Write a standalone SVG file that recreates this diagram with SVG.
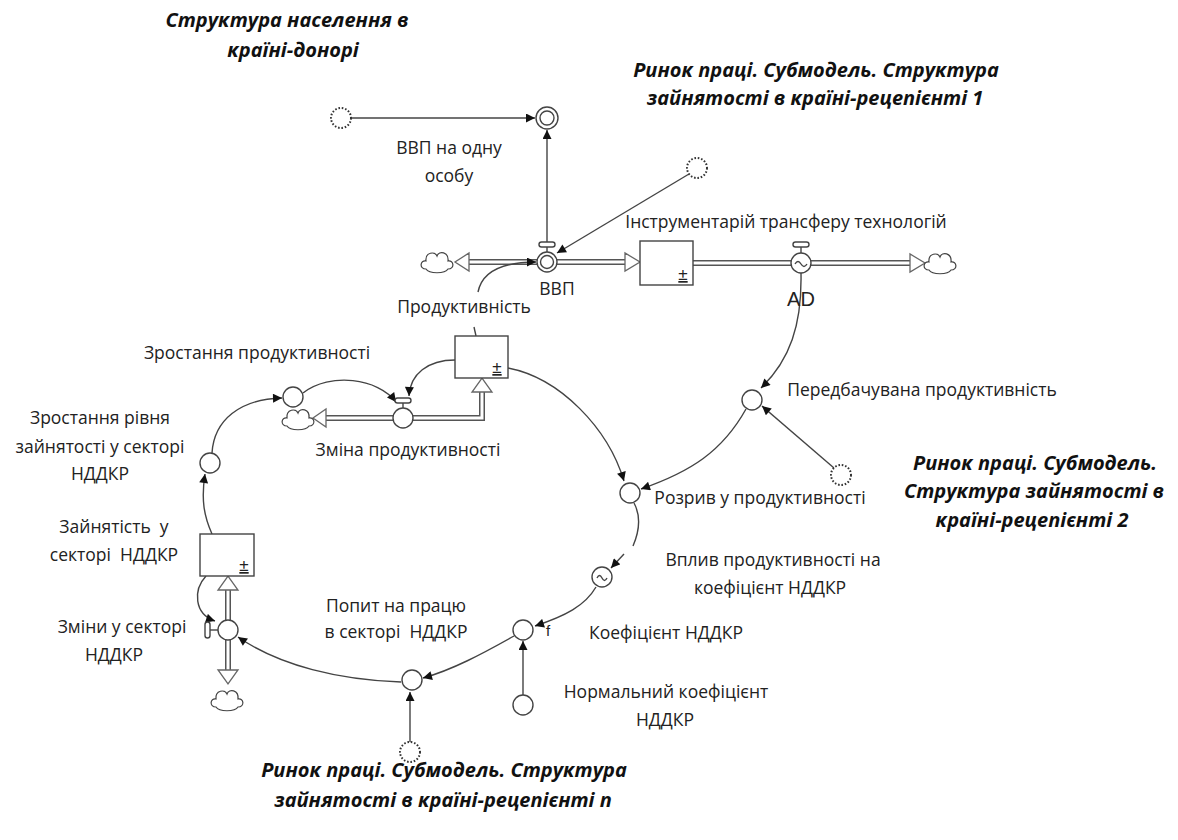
<svg xmlns="http://www.w3.org/2000/svg" width="1178" height="840" viewBox="0 0 1178 840">
<style>
.t{font-family:"Open Sans","Noto Sans",sans-serif;font-size:17.5px;fill:#222;text-anchor:middle;white-space:pre}
.h{font-family:"Open Sans","Noto Sans",sans-serif;font-size:20px;font-weight:bold;font-style:italic;fill:#111;text-anchor:middle}
.ad{font-family:"Liberation Sans",Arial,sans-serif;font-size:20px;fill:#222;text-anchor:middle}
.c{fill:#fff;stroke:#444;stroke-width:1.4}
.dot{fill:#fff;stroke:#333;stroke-width:2;stroke-dasharray:1.6 1.8}
.box{fill:#fff;stroke:#444;stroke-width:1.4}
.po{fill:none;stroke:#555;stroke-width:6}
.pi{fill:none;stroke:#fff;stroke-width:3}
.tri{fill:#fff;stroke:#666;stroke-width:1.3}
.l{fill:none;stroke:#444;stroke-width:1.4}
.a{fill:none;stroke:#444;stroke-width:1.4;marker-end:url(#ar)}
.pm{font-family:"Liberation Sans",Arial,sans-serif;font-size:17px;fill:#222;text-anchor:middle;text-decoration:underline}
.f{font-family:"Liberation Sans",Arial,sans-serif;font-size:15px;fill:#222;text-anchor:middle}
</style>
<defs>
<marker id="ar" viewBox="0 0 10 10" refX="10" refY="5" markerWidth="10" markerHeight="9" markerUnits="userSpaceOnUse" orient="auto">
<path d="M0,0 L10,5 L0,10 z" fill="#111"/>
</marker>
<path id="cloud" d="M-11,7 C-18,7 -17,-2 -11,-1 C-12,-10 -2,-11 0,-6 C2,-12 12,-10 11,-1 C17,-2 18,7 11,7 C8,12 -8,12 -11,7 Z" fill="#fff" stroke="#444" stroke-width="1.2"/>
</defs>
<rect width="1178" height="840" fill="#fff"/>

<g id="titles">
<text class="h" x="287" y="27">Структура населення в</text>
<text class="h" x="293" y="57">країні-донорі</text>
<text class="h" x="816" y="77">Ринок праці. Субмодель. Структура</text>
<text class="h" x="815" y="105">зайнятості в країні-рецепієнті 1</text>
<text class="h" x="1035" y="470">Ринок праці. Субмодель.</text>
<text class="h" x="1034" y="498">Структура зайнятості в</text>
<text class="h" x="1032" y="527">країні-рецепієнті 2</text>
<text class="h" x="444" y="777">Ринок праці. Субмодель. Структура</text>
<text class="h" x="443" y="807">зайнятості в країні-рецепієнті n</text>
</g>

<g id="pipes">
<path class="po" d="M468,262 H625"/><path class="pi" d="M468,262 H625"/>
<polygon class="tri" points="469,253 469,271 455,262"/>
<polygon class="tri" points="625,253 625,271 640,262"/>
<path class="po" d="M693,263 H910"/><path class="pi" d="M693,263 H910"/>
<polygon class="tri" points="910,254 910,272 925,263"/>
<path class="po" d="M326,418 H482 V392"/><path class="pi" d="M326,418 H482 V392"/>
<polygon class="tri" points="326,409 326,427 313,418"/>
<polygon class="tri" points="472,392 492,392 482,378"/>
<path class="po" d="M228,590 V670"/><path class="pi" d="M228,590 V670"/>
<polygon class="tri" points="218,590 238,590 228,576"/>
<polygon class="tri" points="218,670 238,670 228,684"/>
</g>

<g id="connectors">
<path class="a" d="M351,118 H535"/>
<path class="a" d="M547,242 V130"/>
<path class="a" d="M689,174 L557,253"/>
<path class="l" d="M476,336 L474,327"/>
<path class="a" d="M478,292 C482,272 500,262 536,262"/>
<path class="a" d="M801,273 C802,325 790,360 761,388"/>
<path class="a" d="M834,468 L762,406"/>
<path class="a" d="M746,409 C722,452 690,472 641,489"/>
<path class="a" d="M508,368 C560,378 608,428 624,481"/>
<path class="a" d="M303,393 C330,372 378,378 396,402"/>
<path class="a" d="M455,360 C428,360 410,374 409,396"/>
<path class="l" d="M634,503 C641,516 639,532 633,546"/>
<path class="a" d="M624,554 L611,568"/>
<path class="a" d="M596,587 C585,606 565,616 535,626"/>
<path class="a" d="M523,695 V641"/>
<path class="a" d="M514,636 C482,654 452,670 423,678"/>
<path class="a" d="M410,742 V692"/>
<path class="a" d="M401,682 C340,680 280,666 238,637"/>
<path class="a" d="M206,576 C193,590 194,614 215,621"/>
<path class="a" d="M212,534 C204,516 201,500 205,474"/>
<path class="a" d="M212,453 C214,420 240,399 282,398"/>
</g>

<g id="source-gdp-per-capita">
<circle class="dot" cx="341" cy="118" r="10"/>
</g>
<g id="gdp-per-capita">
<circle class="c" cx="547" cy="118" r="11"/>
<circle class="c" cx="547" cy="118" r="7"/>
<text class="t" x="449" y="154">ВВП на одну</text>
<text class="t" x="449" y="182">особу</text>
</g>
<g id="cloud-gdp-left"><use href="#cloud" x="437" y="262"/></g>
<g id="gdp">
<line class="l" x1="547" y1="247" x2="547" y2="252"/>
<rect class="box" x="539" y="242" width="16" height="5" rx="2.5"/>
<circle class="c" cx="547" cy="262" r="10"/>
<circle class="c" cx="547" cy="262" r="6.5"/>
<text class="t" x="557" y="295">ВВП</text>
</g>
<g id="tech-transfer-source">
<circle class="dot" cx="697" cy="168" r="10"/>
<text class="t" x="786" y="228">Інструментарій трансферу технологій</text>
</g>
<g id="stock-main">
<rect class="box" x="640" y="241" width="53" height="44"/>
<text class="pm" x="683" y="280">±</text>
</g>
<g id="ad">
<line class="l" x1="801" y1="247" x2="801" y2="253"/>
<rect class="box" x="793" y="242" width="16" height="5" rx="2.5"/>
<circle class="c" cx="801" cy="263" r="10"/>
<path class="l" d="M795,264 q3,-5 6,0 q3,5 6,0"/>
<text class="ad" x="801" y="306">AD</text>
</g>
<g id="cloud-ad-right"><use href="#cloud" x="940" y="263"/></g>

<g id="productivity">
<rect class="box" x="455" y="336" width="53" height="42"/>
<text class="pm" x="497" y="373">±</text>
<text class="t" x="464" y="313">Продуктивність</text>
</g>
<g id="productivity-growth">
<circle class="c" cx="293" cy="397" r="10"/>
<text class="t" x="257" y="359">Зростання продуктивності</text>
</g>
<g id="cloud-productivity"><use href="#cloud" x="298" y="419"/></g>
<g id="productivity-change">
<line class="l" x1="403" y1="403" x2="403" y2="408"/>
<rect class="box" x="395" y="398" width="16" height="5" rx="2.5"/>
<circle class="c" cx="403" cy="418" r="10"/>
<text class="t" x="408" y="456">Зміна продуктивності</text>
</g>
<g id="expected-productivity">
<circle class="c" cx="752" cy="400" r="10"/>
<text class="t" x="922" y="396">Передбачувана продуктивність</text>
</g>
<g id="expected-source">
<circle class="dot" cx="841" cy="475" r="10"/>
</g>
<g id="productivity-gap">
<circle class="c" cx="630" cy="493" r="10"/>
<text class="t" x="760" y="504">Розрив у продуктивності</text>
</g>
<g id="productivity-effect">
<circle class="c" cx="602" cy="577" r="10"/>
<path class="l" d="M597,578 q2.5,-5 5,0 q2.5,5 5,0"/>
<text class="t" x="773" y="566">Вплив продуктивності на</text>
<text class="t" x="770" y="594">коефіцієнт НДДКР</text>
</g>
<g id="rd-coefficient">
<circle class="c" cx="523" cy="630" r="10"/>
<text class="f" x="548" y="636">f</text>
<text class="t" x="666" y="639">Коефіцієнт НДДКР</text>
</g>
<g id="normal-rd-coefficient">
<circle class="c" cx="523" cy="705" r="10"/>
<text class="t" x="666" y="698">Нормальний коефіцієнт</text>
<text class="t" x="665" y="726">НДДКР</text>
</g>
<g id="labor-demand">
<circle class="c" cx="412" cy="680" r="10"/>
<text class="t" x="396" y="612">Попит на працю</text>
<text class="t" x="396" y="638">в секторі  НДДКР</text>
</g>
<g id="labor-demand-source">
<circle class="dot" cx="410" cy="752" r="10"/>
</g>
<g id="rd-changes">
<line class="l" x1="210" y1="630" x2="218" y2="630"/>
<rect class="box" x="205" y="622" width="5" height="16" rx="2.5"/>
<circle class="c" cx="228" cy="630" r="10"/>
<text class="t" x="122" y="633">Зміни у секторі</text>
<text class="t" x="114" y="661">НДДКР</text>
</g>
<g id="cloud-rd"><use href="#cloud" x="227" y="700"/></g>
<g id="rd-employment">
<rect class="box" x="200" y="534" width="54" height="42"/>
<text class="pm" x="244" y="571">±</text>
<text class="t" x="114" y="533">Зайнятість  у</text>
<text class="t" x="114" y="561">секторі  НДДКР</text>
</g>
<g id="rd-employment-growth">
<circle class="c" cx="210" cy="463" r="10"/>
<text class="t" x="100" y="424">Зростання рівня</text>
<text class="t" x="100" y="453">зайнятості у секторі</text>
<text class="t" x="100" y="480">НДДКР</text>
</g>
</svg>
